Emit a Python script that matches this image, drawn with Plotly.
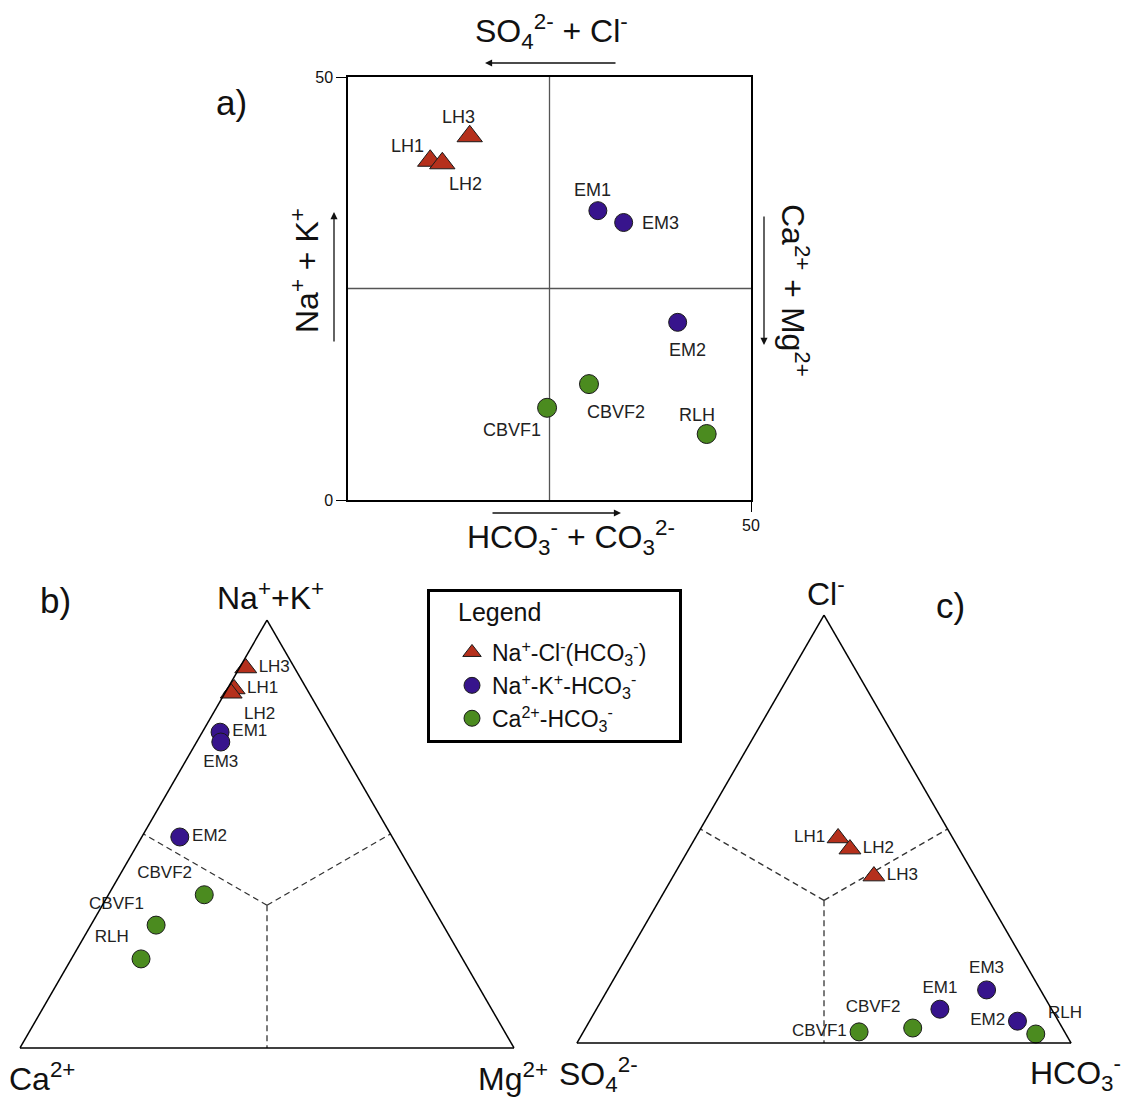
import plotly.graph_objects as go

W, H = 1126, 1100


def px(x):
    return x / W


def py(y):
    return 1 - y / H


FONT = "Liberation Sans, Arial, Helvetica, sans-serif"
RED = "#B5301C"
PURPLE = "#37148C"
GREEN = "#4B8B1F"
EDGE = "#1a1a1a"

# ---------------- data ----------------
group_labels = [
    "Na<sup>+</sup>-Cl<sup>-</sup>(HCO<sub>3</sub><sup>-</sup>)",
    "Na<sup>+</sup>-K<sup>+</sup>-HCO<sub>3</sub><sup>-</sup>",
    "Ca<sup>2+</sup>-HCO<sub>3</sub><sup>-</sup>",
]

# group 1: Na-Cl(HCO3) waters
g1_names = ["LH1", "LH2", "LH3"]
# group 2: Na-K-HCO3 waters
g2_names = ["EM1", "EM2", "EM3"]
# group 3: Ca-HCO3 waters
g3_names = ["CBVF1", "CBVF2", "RLH"]

# a) square diagram (x: HCO3+CO3 axis, y: Na+K axis), scale 0-50
g1_a_x = [10.2, 11.7, 15.1]
g1_a_y = [40.1, 39.8, 43.0]
g2_a_x = [31.0, 40.9, 34.2]
g2_a_y = [34.2, 21.0, 32.8]
g3_a_x = [24.7, 29.9, 44.5]
g3_a_y = [10.9, 13.7, 7.8]

# b) cation triangle (%): Na+K (top), Ca (left), Mg (right)
g1_b_nak = [83.9, 82.9, 88.8]
g1_b_ca = [14.7, 15.8, 9.9]
g1_b_mg = [1.4, 1.3, 1.3]
g2_b_nak = [73.8, 49.3, 71.5]
g2_b_ca = [22.6, 43.0, 23.6]
g2_b_mg = [3.6, 7.7, 4.9]
g3_b_nak = [28.7, 35.8, 20.8]
g3_b_ca = [58.1, 44.8, 65.1]
g3_b_mg = [13.2, 19.4, 14.1]

# c) anion triangle (%): Cl (top), SO4 (left), HCO3 (right)
g1_c_cl = [47.9, 45.3, 39.0]
g1_c_so4 = [23.2, 22.1, 20.4]
g1_c_hco3 = [28.9, 32.6, 40.6]
g2_c_cl = [7.9, 5.1, 12.4]
g2_c_so4 = [22.6, 8.3, 10.9]
g2_c_hco3 = [69.5, 86.6, 76.7]
g3_c_cl = [2.6, 3.5, 2.1]
g3_c_so4 = [41.6, 30.3, 6.1]
g3_c_hco3 = [55.8, 66.2, 91.8]

# ---------------- label placement (style only) ----------------
a_label_shift = {
    "LH1": (-23, 15), "LH2": (23, -21), "LH3": (-11, 19),
    "EM1": (-5, 21), "EM2": (10, -28), "EM3": (37, 0),
    "CBVF1": (-35, -22), "CBVF2": (27, -28), "RLH": (-10, 19),
}
b_textpos = {
    "LH1": "middle right", "LH2": "bottom right", "LH3": "middle right",
    "EM1": "middle right", "EM2": "middle right", "EM3": "bottom center",
    "CBVF1": "top left", "CBVF2": "top left", "RLH": "top left",
}
c_textpos = {
    "LH1": "middle left", "LH2": "middle right", "LH3": "middle right",
    "EM1": "top center", "EM2": "middle left", "EM3": "top center",
    "CBVF1": "middle left", "CBVF2": "top left", "RLH": "top right",
}

groups = [
    dict(names=g1_names, color=RED, symbol="triangle-up", size_a=22, size_t=19,
         ax=g1_a_x, ay=g1_a_y, b=(g1_b_nak, g1_b_ca, g1_b_mg), c=(g1_c_cl, g1_c_so4, g1_c_hco3)),
    dict(names=g2_names, color=PURPLE, symbol="circle", size_a=18, size_t=18,
         ax=g2_a_x, ay=g2_a_y, b=(g2_b_nak, g2_b_ca, g2_b_mg), c=(g2_c_cl, g2_c_so4, g2_c_hco3)),
    dict(names=g3_names, color=GREEN, symbol="circle", size_a=19, size_t=18,
         ax=g3_a_x, ay=g3_a_y, b=(g3_b_nak, g3_b_ca, g3_b_mg), c=(g3_c_cl, g3_c_so4, g3_c_hco3)),
]

fig = go.Figure()

# dashed 50% boundary lines in both triangles
HALF = 50
CEN = 100 / 3
dash_style = dict(color="#333333", width=1.3, dash="6px,4px")
for sub in ["ternary", "ternary2"]:
    for (a_end, b_end, c_end) in [(HALF, HALF, 0), (HALF, 0, HALF), (0, HALF, HALF)]:
        fig.add_trace(go.Scatterternary(
            a=[CEN, a_end], b=[CEN, b_end], c=[CEN, c_end], mode="lines",
            line=dash_style, showlegend=False, hoverinfo="skip", subplot=sub))

label_font = dict(family=FONT, size=18, color="#222222")
tlabel_font = dict(family=FONT, size=17, color="#222222")

for gi, g in enumerate(groups):
    mk_line = dict(color=EDGE, width=1)
    # a) square diagram
    fig.add_trace(go.Scatter(
        x=g["ax"], y=g["ay"], mode="markers", name=group_labels[gi],
        marker=dict(symbol=g["symbol"], size=g["size_a"], color=g["color"], line=mk_line),
        cliponaxis=False, showlegend=True, legendgroup=f"g{gi}"))
    for n, xv, yv in zip(g["names"], g["ax"], g["ay"]):
        dx, dy = a_label_shift[n]
        fig.add_annotation(x=xv, y=yv, xref="x", yref="y", text=n, showarrow=False,
                           xshift=dx, yshift=dy, font=label_font)
    # b) cation triangle
    nak, ca, mg = g["b"]
    fig.add_trace(go.Scatterternary(
        a=nak, b=ca, c=mg, mode="markers+text", text=g["names"],
        textposition=[b_textpos[n] for n in g["names"]], textfont=tlabel_font,
        marker=dict(symbol=g["symbol"], size=g["size_t"], color=g["color"], line=mk_line),
        cliponaxis=False, showlegend=False, legendgroup=f"g{gi}", subplot="ternary"))
    # c) anion triangle
    cl, so4, hco3 = g["c"]
    fig.add_trace(go.Scatterternary(
        a=cl, b=so4, c=hco3, mode="markers+text", text=g["names"],
        textposition=[c_textpos[n] for n in g["names"]], textfont=tlabel_font,
        marker=dict(symbol=g["symbol"], size=g["size_t"], color=g["color"], line=mk_line),
        cliponaxis=False, showlegend=False, legendgroup=f"g{gi}", subplot="ternary2"))

# quadrant lines of the square diagram
MID = 25
fig.add_shape(type="line", xref="x", yref="y", x0=MID, x1=MID, y0=0, y1=50,
              line=dict(color="#555555", width=1.3), layer="below")
fig.add_shape(type="line", xref="x", yref="y", x0=0, x1=50, y0=MID, y1=MID,
              line=dict(color="#555555", width=1.3), layer="below")

# legend frame
fig.add_shape(type="rect", xref="paper", yref="paper",
              x0=px(428.5), x1=px(680.5), y0=py(741.5), y1=py(590.5),
              line=dict(color="black", width=3), fillcolor="rgba(0,0,0,0)")

big = dict(family=FONT, size=32, color="#111111")
panel = dict(family=FONT, size=35, color="#111111")


def txt(x, y, s, font, angle=0, xanchor="center"):
    fig.add_annotation(x=px(x), y=py(y), xref="paper", yref="paper", text=s,
                       showarrow=False, font=font, textangle=angle,
                       xanchor=xanchor, yanchor="middle")


def arrow(hx, hy, tx, ty):
    fig.add_annotation(x=px(hx), y=py(hy), xref="paper", yref="paper", text="",
                       showarrow=True, ax=tx - hx, ay=ty - hy, arrowhead=2,
                       arrowsize=1.1, arrowwidth=1.3, arrowcolor="#111111", standoff=0)


# panel a axis titles and arrows
txt(551, 32, "SO<sub>4</sub><sup>2-</sup> + Cl<sup>-</sup>", big)
arrow(485, 63, 617, 63)
txt(305, 271, "Na<sup>+</sup> + K<sup>+</sup>", big, -90)
arrow(334, 212, 334, 343)
txt(795, 290, "Ca<sup>2+</sup> + Mg<sup>2+</sup>", big, 90)
arrow(764, 345, 764, 215)
txt(571, 538, "HCO<sub>3</sub><sup>-</sup> + CO<sub>3</sub><sup>2-</sup>", big)
arrow(621, 513, 491, 513)

# panel letters
txt(231, 102, "a)", panel)
txt(55, 600, "b)", panel)
txt(950, 605, "c)", panel)

# triangle vertex labels
txt(270, 596, "Na<sup>+</sup>+K<sup>+</sup>", big)
txt(42, 1077, "Ca<sup>2+</sup>", big)
txt(513, 1077, "Mg<sup>2+</sup>", big)
txt(826, 592, "Cl<sup>-</sup>", big)
txt(598, 1074, "SO<sub>4</sub><sup>2-</sup>", big)
txt(1075, 1073, "HCO<sub>3</sub><sup>-</sup>", big)

# legend heading
txt(456, 612, "Legend", dict(family=FONT, size=25, color="#111111"), xanchor="left")

tern_axis = dict(showline=True, linecolor="black", linewidth=1.5, showgrid=False,
                 showticklabels=False, ticks="", title=dict(text=""))

fig.update_layout(
    width=W, height=H,
    margin=dict(l=0, r=0, t=0, b=0, pad=0, autoexpand=False),
    paper_bgcolor="white", plot_bgcolor="white",
    font=dict(family=FONT, color="#111111"),
    xaxis=dict(domain=[px(348), px(751)], range=[0, 50], showline=True, mirror=True,
               linecolor="black", linewidth=1.5, showgrid=False, zeroline=False,
               tickvals=[50], ticks="outside", ticklen=10, tickcolor="black",
               tickfont=dict(family=FONT, size=16, color="#111111"), automargin=False),
    yaxis=dict(domain=[py(500), py(77)], range=[0, 50], showline=True, mirror=True,
               linecolor="black", linewidth=1.5, showgrid=False, zeroline=False,
               tickvals=[0, 50], ticks="outside", ticklen=10, tickcolor="black",
               tickfont=dict(family=FONT, size=16, color="#111111"), automargin=False),
    ternary=dict(domain=dict(x=[px(20), px(514)], y=[py(1048), py(620)]), sum=100,
                 bgcolor="white", aaxis=tern_axis, baxis=tern_axis, caxis=tern_axis),
    ternary2=dict(domain=dict(x=[px(576), px(1072)], y=[py(1043), py(615)]), sum=100,
                  bgcolor="white", aaxis=tern_axis, baxis=tern_axis, caxis=tern_axis),
    showlegend=True,
    legend=dict(x=px(452), y=py(631), xanchor="left", yanchor="top",
                bgcolor="rgba(0,0,0,0)", borderwidth=0,
                font=dict(family=FONT, size=23, color="#111111"),
                itemsizing="trace", traceorder="normal"),
)

fig.write_html("out.html")
